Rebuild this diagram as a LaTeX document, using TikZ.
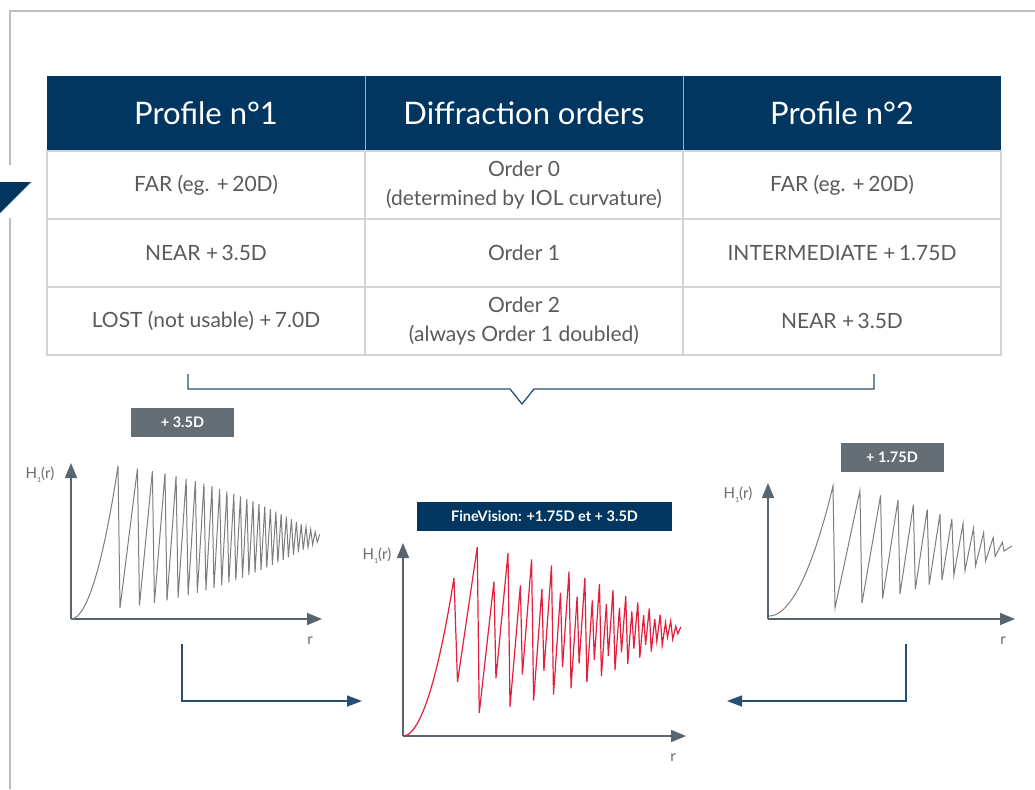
\documentclass[tikz,border=0pt]{standalone}
\usepackage{fontspec}
\setmainfont{Lato}
\usetikzlibrary{positioning,arrows.meta}
\definecolor{navy}{RGB}{0,54,96}
\definecolor{framegray}{RGB}{185,190,195}
\definecolor{cellgray}{RGB}{212,212,212}
\definecolor{textgray}{RGB}{90,90,90}
\definecolor{taggray}{RGB}{101,110,117}
\definecolor{axisgray}{RGB}{88,100,110}
\definecolor{curvegray}{RGB}{125,125,125}
\definecolor{curvered}{RGB}{228,30,60}
\definecolor{linkblue}{RGB}{40,78,115}

\begin{document}
\begin{tikzpicture}[x=1pt, y=-1pt,
  head/.style={fill=navy, text=white, minimum width=318pt, minimum height=75pt,
    inner sep=0pt, outer sep=0pt, font=\fontsize{31}{34}\selectfont},
  cell/.style={draw=cellgray, line width=1.5pt, minimum width=318pt, minimum height=68pt,
    inner sep=0pt, outer sep=0pt, text=textgray, align=center, font=\fontsize{21}{29}\selectfont},
  tag/.style={fill=taggray, text=white, minimum width=103pt, minimum height=29pt,
    inner sep=0pt, font=\bfseries\fontsize{14.5}{16}\selectfont},
  axis/.style={axisgray, line width=1.6pt, -{Triangle[length=15pt,width=12pt]}},
  link/.style={linkblue, line width=1.3pt},
  hlabel/.style={text=curvegray!85!black, font=\fontsize{15}{17}\selectfont, inner sep=0pt},
  graph/.style={line width=1pt}]
\useasboundingbox (0,0) rectangle (1035,789);

\draw[framegray, line width=1.5pt] (1035,11) -- (10,11) -- (10,165);
\draw[framegray, line width=1.5pt] (10,218) -- (10,789);
\fill[navy] (0,182) -- (31,182) -- (0,213) -- cycle;

\node[head, anchor=north west] (h1) at (47,76) {Profile n°1};
\node[head, right=0pt of h1] (h2) {Diffraction orders};
\node[head, right=0pt of h2] (h3) {Profile n°2};
\draw[white!60!navy] (h1.north east) -- (h1.south east);
\draw[white!60!navy] (h2.north east) -- (h2.south east);

\node[cell, below=0pt of h1] (c11) {FAR (eg. +\,20D)};
\node[cell, below=0pt of h2] (c12) {Order 0\\(determined by IOL curvature)};
\node[cell, below=0pt of h3] (c13) {FAR (eg. +\,20D)};
\node[cell, below=0pt of c11] (c21) {NEAR +\,3.5D};
\node[cell, below=0pt of c12] (c22) {Order 1};
\node[cell, below=0pt of c13] (c23) {INTERMEDIATE +\,1.75D};
\node[cell, below=0pt of c21] (c31) {LOST (not usable) +\,7.0D};
\node[cell, below=0pt of c22] (c32) {Order 2\\(always Order 1 doubled)};
\node[cell, below=0pt of c23] (c33) {NEAR +\,3.5D};

\coordinate (brL) at (188,374);
\coordinate (brR) at (874,374);
\coordinate (brV) at (522,404);
\draw[link] (brL) |- (510,389) -- (brV) -- (534,389) -| (brR);

\node[tag] (tagA) at (182.5,422.5) {+ 3.5D};
\node[tag] (tagB) at (892,457.5) {+ 1.75D};
\node[tag, fill=navy, minimum width=255pt] (tagF) at (544.5,516.5) {FineVision: +1.75D et + 3.5D};

% profile 1
\coordinate (o1) at (71,619);
\draw[axis] (o1) -- (71,463);
\draw[axis] (o1) -- (322,619);
\node[hlabel] (y1) at (40,475) {H\raisebox{-0.5ex}{\scriptsize 1}(r)};
\node[hlabel] (r1) at (310,641) {r};
\draw[graph, curvegray] (o1) parabola (118,466)
  \foreach \k in {2,...,28}{ -- ({71+47*sqrt(\k-1)+2}, {537+71*(30-\k)/28})
                             -- ({71+47*sqrt(\k)}, {537-71*(29-\k)/28}) };

% fine vision
\coordinate (o2) at (403,736);
\draw[axis] (o2) -- (403,543);
\draw[axis] (o2) -- (686,736);
\node[hlabel] (y2) at (377,556) {H\raisebox{-0.5ex}{\scriptsize 1}(r)};
\node[hlabel] (r2) at (673,758) {r};
\draw[graph, curvered, line width=1.2pt] (o2) parabola (454,578)
  \foreach \k in {2,...,28}{ -- ({403+52.5*sqrt(\k-1)+2}, {630+(52+34*isodd(\k))*(30-\k)/28})
                             -- ({403+52.5*sqrt(\k)}, {630-(52+34*iseven(\k))*(29-\k)/28}) };

% profile 2
\coordinate (o3) at (768,619);
\draw[axis] (o3) -- (768,483);
\draw[axis] (o3) -- (1015,619);
\node[hlabel] (y3) at (738,495) {H\raisebox{-0.5ex}{\scriptsize 1}(r)};
\node[hlabel] (r3) at (1003,641) {r};
\draw[graph, curvegray] (769,616) parabola (833,486)
  \foreach \k in {2,...,13}{ -- ({768+65*sqrt(\k-1)+2}, {547+61*(15-\k)/13})
                             -- ({768+65*sqrt(\k)}, {547-61*(14-\k)/13}) }
  -- (1004,551) -- (1012,546);

\coordinate (lk1) at (182,644);
\coordinate (lk2) at (906,644);
\coordinate (in2) at (362,701);
\coordinate (in3) at (727,701);
\draw[link, -{Triangle[length=15pt,width=11pt]}] (lk1) |- (in2);
\draw[link, -{Triangle[length=15pt,width=11pt]}] (lk2) |- (in3);
\end{tikzpicture}
\end{document}
